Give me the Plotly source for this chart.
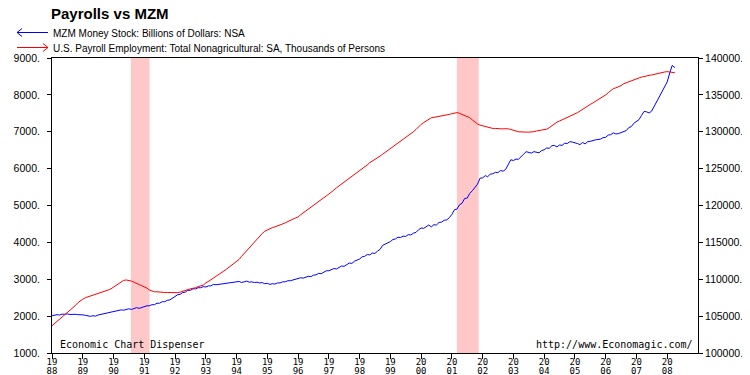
import pandas as pd
import plotly.graph_objects as go

# ---- data (monthly, Jan 1988 - Apr 2008) ----
mzm = [
    2010, 2025, 2040, 2030, 2055, 2050, 2060, 2045, 2055, 2050, 2040, 2045,
    2035, 2020, 2010, 1995, 2010, 2000, 2030, 2045, 2060, 2080, 2090, 2110,
    2120, 2140, 2140, 2170, 2160, 2190, 2200, 2180, 2210, 2230, 2210, 2240,
    2250, 2280, 2280, 2310, 2310, 2350, 2350, 2390, 2390, 2430, 2440, 2480,
    2530, 2580, 2590, 2640, 2650, 2700, 2700, 2740, 2740, 2770, 2770, 2800,
    2790, 2820, 2820, 2860, 2850, 2860, 2860, 2890, 2880, 2910, 2900, 2920,
    2920, 2940, 2910, 2940, 2950, 2920, 2930, 2910, 2920, 2900, 2910, 2880,
    2890, 2860, 2880, 2870, 2900, 2900, 2930, 2930, 2960, 2960, 2980, 2980,
    3010, 3040, 3030, 3060, 3080, 3070, 3110, 3120, 3160, 3150, 3190, 3230,
    3230, 3270, 3290, 3280, 3320, 3360, 3350, 3400, 3440, 3430, 3490, 3520,
    3550, 3610, 3620, 3670, 3660, 3710, 3700, 3760, 3810, 3920, 3950, 4000,
    4020, 4080, 4090, 4140, 4130, 4170, 4160, 4210, 4200, 4250, 4270, 4340,
    4390, 4380, 4430, 4470, 4420, 4480, 4470, 4540, 4550, 4600, 4610, 4670,
    4760, 4890, 4900, 5020, 5060, 5190, 5200, 5330, 5400, 5500, 5580, 5740,
    5750, 5810, 5780, 5850, 5860, 5900, 5890, 5950, 5930, 5980, 6100, 6240,
    6220, 6260, 6250, 6310, 6390, 6460, 6440, 6420, 6460, 6450, 6430, 6490,
    6510, 6560, 6550, 6620, 6630, 6590, 6640, 6630, 6690, 6680, 6730, 6720,
    6710, 6680, 6650, 6710, 6670, 6730, 6740, 6770, 6780, 6790, 6800, 6840,
    6850, 6910, 6920, 6970, 6940, 6950, 6980, 7020, 7030, 7110, 7140, 7230,
    7280, 7330, 7440, 7550, 7540, 7510, 7560, 7690, 7810, 7940, 8060, 8200,
    8350, 8600, 8800, 8740,
]

payrolls = [
    103700, 104000, 104300, 104550, 104800, 105100, 105400, 105700, 106050, 106400, 106800, 107100,
    107300, 107500, 107600, 107700, 107850, 107950, 108050, 108150, 108300, 108450, 108550, 108700,
    108950, 109200, 109450, 109650, 109850, 109900, 109850, 109750, 109600, 109450, 109300, 109150,
    109000, 108800, 108550, 108400, 108300, 108300, 108250, 108200, 108200, 108200, 108180, 108170,
    108170, 108180, 108250, 108400, 108550, 108600, 108700, 108750, 108850, 109000, 109050, 109200,
    109500, 109700, 109900, 110150, 110400, 110600, 110850, 111100, 111350, 111600, 111850, 112100,
    112400, 112700, 113100, 113500, 113900, 114300, 114700, 115000, 115400, 115800, 116200, 116500,
    116700, 116850, 117000, 117100, 117200, 117350, 117500, 117650, 117850, 118000, 118150, 118300,
    118450, 118750, 119000, 119250, 119550, 119800, 120100, 120300, 120550, 120800, 121050, 121300,
    121550, 121800, 122100, 122400, 122650, 122900, 123150, 123400, 123700, 124000, 124250, 124500,
    124700, 125000, 125200, 125500, 125800, 126000, 126200, 126500, 126700, 126950, 127200, 127450,
    127700, 128000, 128200, 128500, 128700, 128950, 129200, 129450, 129700, 130000, 130300, 130700,
    131000, 131250, 131500, 131750, 131900, 131950, 132000, 132050, 132150, 132200, 132250, 132350,
    132450, 132550, 132600, 132500, 132350, 132200, 132050, 131900, 131600, 131300, 131050, 130900,
    130800, 130650, 130600, 130500, 130450, 130450, 130400, 130400, 130400, 130450, 130400, 130300,
    130250, 130100, 130000, 129950, 129950, 129950, 129950, 129950, 130000, 130100, 130150, 130200,
    130250, 130350, 130550, 130800, 131100, 131300, 131450, 131600, 131750, 131950, 132100, 132250,
    132400, 132600, 132800, 133050, 133250, 133450, 133700, 133900, 134100, 134350, 134550, 134750,
    135000, 135300, 135600, 135850, 135950, 136050, 136250, 136500, 136650, 136800, 136950, 137100,
    137200, 137300, 137400, 137450, 137550, 137650, 137700, 137800, 137900, 137950, 138050, 138100,
    138150, 138100, 138050, 138000,
]

dates = pd.date_range("1988-01-01", periods=len(mzm), freq="MS")

years = list(range(1988, 2009))
tick_vals = [f"{y}-01-01" for y in years]
tick_century = [str(y)[:2] for y in years]
tick_year = [str(y)[2:] for y in years]

recession_starts = ["1990-07-25", "2001-03-01"]
recession_ends = ["1991-03-05", "2001-11-15"]

title_text = "Payrolls vs MZM"
legend_left = "MZM Money Stock: Billions of Dollars: NSA"
legend_right = "U.S. Payroll Employment: Total Nonagricultural: SA, Thousands of Persons"
credit_left = "Economic Chart Dispenser"
credit_right = "http://www.Economagic.com/"

# ---- layout geometry ----
# The page body has an 8px default margin, so the figure is sized to end
# exactly at the 750x375 window edge; helpers take page pixel positions.
OFF = 8
W, H = 750 - OFF, 375 - OFF
PLOT_L, PLOT_R, PLOT_T, PLOT_B = 52, 698, 58, 353      # page pixels
L, T = PLOT_L - OFF, PLOT_T - OFF
R, B = W - (PLOT_R - OFF), H - (PLOT_B - OFF)
PW, PH = PLOT_R - PLOT_L, PLOT_B - PLOT_T


def px(x):
    return (x - PLOT_L) / PW


def py(y):
    return (PLOT_B - y) / PH


mono = "DejaVu Sans Mono"
sans = "Liberation Sans"

fig = go.Figure()
fig.add_trace(go.Scatter(x=dates, y=mzm, mode="lines",
                         line=dict(color="#0000FF", width=1),
                         xaxis="x", yaxis="y", showlegend=False, hoverinfo="skip"))
fig.add_trace(go.Scatter(x=dates, y=payrolls, mode="lines",
                         line=dict(color="#FF0000", width=1),
                         xaxis="x2", yaxis="y2", showlegend=False, hoverinfo="skip"))

shapes = []
for s, e in zip(recession_starts, recession_ends):
    shapes.append(dict(type="rect", xref="x", yref="paper", x0=s, x1=e, y0=0, y1=1,
                       fillcolor="#FFC8C8", line=dict(width=0), layer="below"))


# legend arrows (decoration)
def arrow_path(x_head, x_tail, y, direction):
    d = 5 * direction
    return (f"M {px(x_tail)},{py(y)} L {px(x_head)},{py(y)} "
            f"M {px(x_head + d)},{py(y - 4)} L {px(x_head)},{py(y)} L {px(x_head + d)},{py(y + 4)}")


shapes.append(dict(type="path", xref="paper", yref="paper",
                   path=arrow_path(17, 48, 32.5, 1), line=dict(color="#0000FF", width=1)))
shapes.append(dict(type="path", xref="paper", yref="paper",
                   path=arrow_path(48, 17, 47.5, -1), line=dict(color="#FF0000", width=1)))

annotations = [
    dict(text=legend_left, xref="paper", yref="paper", x=px(51), y=py(33),
         xanchor="left", yanchor="middle", showarrow=False,
         font=dict(family=sans, size=10, color="black")),
    dict(text=legend_right, xref="paper", yref="paper", x=px(51), y=py(48),
         xanchor="left", yanchor="middle", showarrow=False,
         font=dict(family=sans, size=10, color="black")),
    dict(text=credit_left, xref="paper", yref="paper", x=px(58), y=py(344),
         xanchor="left", yanchor="middle", showarrow=False,
         font=dict(family=mono, size=10, color="black")),
    dict(text=credit_right, xref="paper", yref="paper", x=px(695), y=py(344),
         xanchor="right", yanchor="middle", showarrow=False,
         font=dict(family=mono, size=10, color="black")),
]

x_common = dict(type="date", range=["1988-01-01", "2009-01-01"], tickmode="array",
                tickvals=tick_vals, showgrid=False, zeroline=False, automargin=False,
                tickfont=dict(family=mono, size=9, color="black"))

y_left = dict(range=[1000, 9000], dtick=1000, showgrid=False, zeroline=False, automargin=False)
y_right = dict(range=[100000, 140000], dtick=5000, showgrid=False, zeroline=False, automargin=False)

fig.update_layout(
    width=W, height=H,
    margin=dict(l=L, r=R, t=T, b=B, pad=0, autoexpand=False),
    paper_bgcolor="white", plot_bgcolor="white",
    title=dict(text=f"<b>{title_text}</b>", x=(51 - OFF) / W, xref="container", xanchor="left",
               y=1, yref="container", yanchor="top", automargin=False,
               font=dict(family=sans, size=15, color="black")),
    xaxis=dict(**x_common, ticktext=tick_century, ticks="outside", ticklen=5,
               tickcolor="black", showline=True, linecolor="black", linewidth=1,
               mirror=True, ticklabelstandoff=-5),
    xaxis2=dict(**x_common, ticktext=tick_year, overlaying="x", anchor="y2", side="bottom",
                ticks="", showline=False, ticklabelstandoff=11),
    yaxis=dict(**y_left, tickformat="d", ticksuffix=".",
               ticks="outside", ticklen=4, tickcolor="black", showline=True,
               linecolor="black", linewidth=1,
               tickfont=dict(family=sans, size=10.5, color="black"), ticklabelstandoff=5),
    yaxis2=dict(**y_right, tickformat="d", ticksuffix=".",
                overlaying="y", side="right", anchor="x",
                ticks="outside", ticklen=4, tickcolor="black", showline=True,
                linecolor="black", linewidth=1,
                tickfont=dict(family=sans, size=10.5, color="black"), ticklabelstandoff=0),
    # inner halves of the crossing tick marks
    yaxis3=dict(**y_left, overlaying="y", side="left", anchor="x",
                ticks="inside", ticklen=3, tickcolor="black", showticklabels=False,
                showline=False),
    yaxis4=dict(**y_right, overlaying="y", side="right", anchor="x",
                ticks="inside", ticklen=4, tickcolor="black", showticklabels=False,
                showline=False),
    shapes=shapes,
    annotations=annotations,
    showlegend=False,
)

fig.write_html("out.html")
